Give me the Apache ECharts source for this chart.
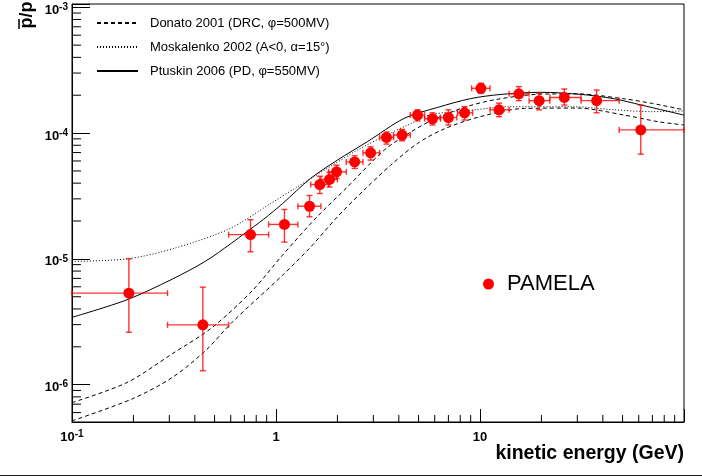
<!DOCTYPE html>
<html><head><meta charset="utf-8">
<script src="https://cdn.jsdelivr.net/npm/echarts@6/dist/echarts.min.js"></script>
<style>html,body{margin:0;padding:0;background:#fff}#c{width:702px;height:476px}</style>
</head><body><div id="c"></div>
<script>
// ---- PAMELA data ----
const energy     = [0.19, 0.438, 0.75, 1.10, 1.46, 1.64, 1.83, 1.98, 2.43, 2.91, 3.48, 4.15, 4.94, 5.85, 7.0, 8.4, 10.1, 12.4, 15.5, 19.5, 25.9, 37.3, 61.4];
const ratio      = [5.34e-6, 2.99e-6, 1.56e-5, 1.88e-5, 2.62e-5, 3.9e-5, 4.28e-5, 4.92e-5, 5.9e-5, 6.97e-5, 9.24e-5, 9.64e-5, 1.39e-4, 1.30e-4, 1.33e-4, 1.45e-4, 2.27e-4, 1.53e-4, 2.05e-4, 1.81e-4, 1.92e-4, 1.81e-4, 1.06e-4];
const energyLow  = [0.1, 0.294, 0.586, 0.92, 1.28, 1.48, 1.66, 1.81, 2.21, 2.67, 3.22, 3.77, 4.55, 5.35, 6.4, 7.77, 9.1, 11.2, 13.9, 17.4, 22.0, 31.3, 48.1];
const energyHigh = [0.294, 0.586, 0.92, 1.28, 1.66, 1.81, 2.0, 2.21, 2.67, 3.22, 3.77, 4.55, 5.35, 6.4, 7.7, 9.2, 11.2, 13.9, 17.4, 22.0, 31.3, 48.1, 100];
const ratioLow   = [2.61e-6, 1.29e-6, 1.14e-5, 1.36e-5, 2.16e-5, 3.31e-5, 3.73e-5, 4.36e-5, 5.23e-5, 6.1e-5, 8.17e-5, 8.68e-5, 1.25e-4, 1.16e-4, 1.16e-4, 1.27e-4, 2.07e-4, 1.35e-4, 1.81e-4, 1.53e-4, 1.67e-4, 1.45e-4, 6.8e-5];
const ratioHigh  = [1.0e-5, 5.96e-6, 2.05e-5, 2.47e-5, 3.19e-5, 4.54e-5, 4.87e-5, 5.56e-5, 6.6e-5, 7.78e-5, 1.02e-4, 1.07e-4, 1.53e-4, 1.45e-4, 1.53e-4, 1.62e-4, 2.49e-4, 1.73e-4, 2.34e-4, 2.07e-4, 2.24e-4, 2.2e-4, 1.67e-4];

// ---- model curves ----
const donatoUpperE = [0.1, 0.186, 0.31, 0.488, 0.766, 1.076, 1.59, 2.24, 3.39, 4.58, 5.74, 8.37, 12, 20, 30, 50, 70, 100];
const donatoUpperR = [7.2e-7, 1.04e-6, 1.76e-6, 2.86e-6, 5.6e-6, 1.07e-5, 2.16e-5, 3.73e-5, 7.32e-5, 1.02e-4, 1.25e-4, 1.6e-4, 1.85e-4, 2.04e-4, 2.05e-4, 1.88e-4, 1.72e-4, 1.53e-4];
const donatoLowerE = [0.1, 0.197, 0.31, 0.452, 0.61, 1.076, 1.477, 2.0, 2.7, 3.65, 4.94, 6.68, 10, 16.5, 30, 51, 75, 100];
const donatoLowerR = [5.16e-7, 7.7e-7, 1.14e-6, 1.87e-6, 3.14e-6, 7.4e-6, 1.24e-5, 2.16e-5, 3.52e-5, 5.56e-5, 8.28e-5, 1.08e-4, 1.35e-4, 1.57e-4, 1.58e-4, 1.39e-4, 1.23e-4, 1.16e-4];
const moskE = [0.1, 0.186, 0.31, 0.589, 0.94, 1.27, 1.8, 2.5, 3.5, 4.58, 5.74, 9.4, 13.7, 29, 45.7, 70, 100];
const moskR = [9.55e-6, 1.0e-5, 1.2e-5, 1.73e-5, 2.75e-5, 3.73e-5, 5.3e-5, 7.3e-5, 9.7e-5, 1.19e-4, 1.4e-4, 1.53e-4, 1.62e-4, 1.62e-4, 1.53e-4, 1.48e-4, 1.5e-4];
const ptusE = [0.1, 0.186, 0.31, 0.452, 0.6, 0.711, 0.871, 1.076, 1.477, 2.0, 2.8, 4.25, 6.2, 9.0, 12.7, 19.9, 31.3, 45, 61.8, 100];
const ptusR = [3.43e-6, 4.73e-6, 6.9e-6, 9.6e-6, 1.32e-5, 1.62e-5, 2.07e-5, 2.75e-5, 4.36e-5, 6.1e-5, 8.53e-5, 1.31e-4, 1.6e-4, 1.88e-4, 2.03e-4, 2.11e-4, 2.03e-4, 1.88e-4, 1.67e-4, 1.39e-4];

// ---- names / tick labels ----
const nameDonato = 'Donato 2001 (DRC, φ=500MV)';
const nameMosk = 'Moskalenko 2002 (A<0, α=15°)';
const namePtus = 'Ptuskin 2006 (PD, φ=550MV)';
const nameData = 'PAMELA';
const xAxisTitle = 'kinetic energy (GeV)';
const xTickLabels = [[0.1, '{b|10}{s|-1}'], [1, '{b|1}'], [10, '{b|10}']];

const X_MIN = 0.1, X_MAX = 100, Y_MIN = 5.05e-7, Y_MAX = 1.062e-3;
const FONT = '"Liberation Sans", Arial, Helvetica, sans-serif';

const zip = (a, b) => a.map((v, i) => [v, b[i]]);
const near = (a, b) => Math.abs(Math.log10(a) - Math.log10(b)) < 1e-6;

// minor tick positions (axis decoration)
const xMinor = [], yMinor = [];
for (let d = -1; d < 2; d++) for (let m = 2; m <= 9; m++) xMinor.push([m * Math.pow(10, d), Y_MIN]);
for (let d = -7; d < -3; d++) for (let m = 2; m <= 9; m++) { const v = m * Math.pow(10, d); if (v > Y_MIN && v < Y_MAX) yMinor.push([X_MIN, v]); }

const rich = {
  b: {fontSize: 13, fontWeight: 'bold', fontFamily: FONT, color: '#000', lineHeight: 16},
  s: {fontSize: 10, fontWeight: 'bold', fontFamily: FONT, color: '#000', lineHeight: 10, verticalAlign: 'top'}
};

const chart = echarts.init(document.getElementById('c'), null, {renderer: 'canvas'});
const errColor = 'rgba(255,0,0,0.8)';
chart.setOption({
  animation: false,
  backgroundColor: '#fff',
  grid: {left: 72, right: 18, top: 4, bottom: 54, show: true, borderColor: '#000', borderWidth: 1, containLabel: false, outerBoundsMode: 'none'},
  xAxis: {
    type: 'log', logBase: 10, min: X_MIN, max: X_MAX,
    axisLine: {lineStyle: {color: '#000', width: 1}},
    axisTick: {inside: true, length: 13, lineStyle: {color: '#000', width: 1}},
    splitLine: {show: false},
    axisLabel: {
      margin: 7, color: '#000', rich: rich,
      formatter: v => { for (const [t, s] of xTickLabels) if (near(v, t)) return s; return ''; }
    }
  },
  yAxis: {
    type: 'log', logBase: 10, min: Y_MIN, max: Y_MAX,
    axisLine: {lineStyle: {color: '#000', width: 1}},
    axisTick: {inside: true, length: 18, lineStyle: {color: '#000', width: 1}},
    splitLine: {show: false},
    axisLabel: {
      margin: 4, color: '#000', rich: rich, padding: [6, 0, 0, 0],
      formatter: v => { const e = Math.round(Math.log10(v)); if (!near(v, Math.pow(10, e))) return ''; return '{b|10}{s|' + e + '}'; }
    }
  },
  legend: [
    {
      orient: 'vertical', left: 96, top: 16, padding: 0, itemWidth: 41, itemHeight: 14, itemGap: 10,
      selectedMode: false, data: [nameDonato, nameMosk, namePtus],
      itemStyle: {color: 'rgba(0,0,0,0)', borderColor: 'rgba(0,0,0,0)', borderWidth: 0},
      textStyle: {fontSize: 13, color: '#000', fontFamily: FONT, lineHeight: 14, padding: [0, 0, 0, 7]}
    },
    {
      left: 483, top: 272, padding: 0, itemWidth: 11, itemHeight: 11, selectedMode: false, data: [nameData],
      textStyle: {fontSize: 22, color: '#000', fontFamily: FONT, lineHeight: 24, padding: [0, 0, 0, 8]}
    }
  ],
  graphic: [
    {type: 'text', x: 27, y: 15, rotation: Math.PI / 2, z: 100,
     style: {text: 'p/p', font: 'bold 18px ' + FONT, fill: '#000', align: 'center', verticalAlign: 'middle', textAlign: 'center', textVerticalAlign: 'middle'}},
    {type: 'line', z: 100, shape: {x1: 19, y1: 19, x2: 19, y2: 29}, style: {stroke: '#000', lineWidth: 1.5}},
    {type: 'text', x: 684, y: 454, z: 100,
     style: {text: xAxisTitle, font: 'bold 19.5px ' + FONT, fill: '#000', align: 'right', verticalAlign: 'middle', textAlign: 'right', textVerticalAlign: 'middle'}},
    {type: 'line', z: 100, shape: {x1: 0, y1: 475.5, x2: 702, y2: 475.5}, style: {stroke: '#222', lineWidth: 1}}
  ],
  series: [
    {name: nameDonato, type: 'line', data: zip(donatoUpperE, donatoUpperR), symbol: 'none', smooth: 0.3,
     lineStyle: {color: '#000', width: 1, type: [4, 3]}, itemStyle: {color: '#000'}, z: 3},
    {name: nameDonato, type: 'line', data: zip(donatoLowerE, donatoLowerR), symbol: 'none', smooth: 0.3,
     lineStyle: {color: '#000', width: 1, type: [4, 3]}, itemStyle: {color: '#000'}, z: 3},
    {name: nameMosk, type: 'line', data: zip(moskE, moskR), symbol: 'none', smooth: 0.3,
     lineStyle: {color: '#000', width: 1, type: [1, 2]}, itemStyle: {color: '#000'}, z: 3},
    {name: namePtus, type: 'line', data: zip(ptusE, ptusR), symbol: 'none', smooth: 0.3,
     lineStyle: {color: '#000', width: 1, type: 'solid'}, itemStyle: {color: '#000'}, z: 3},
    {
      name: 'errors', type: 'custom', z: 4, silent: true,
      data: energy.map((e, i) => [e, ratio[i], energyLow[i], energyHigh[i], ratioLow[i], ratioHigh[i]]),
      encode: {x: 0, y: 1},
      renderItem: (params, api) => {
        const x = api.value(0), y = api.value(1);
        const c = api.coord([x, y]);
        const pl = api.coord([api.value(2), y]), ph = api.coord([api.value(3), y]);
        const pyl = api.coord([x, api.value(4)]), pyh = api.coord([x, api.value(5)]);
        const cap = 3, st = {stroke: errColor, lineWidth: 1.4};
        const L = (x1, y1, x2, y2) => ({type: 'line', shape: {x1, y1, x2, y2}, style: st});
        return {type: 'group', children: [
          L(pl[0], c[1], ph[0], c[1]),
          L(pl[0], c[1] - cap, pl[0], c[1] + cap),
          L(ph[0], c[1] - cap, ph[0], c[1] + cap),
          L(c[0], pyl[1], c[0], pyh[1]),
          L(c[0] - cap, pyl[1], c[0] + cap, pyl[1]),
          L(c[0] - cap, pyh[1], c[0] + cap, pyh[1])
        ]};
      }
    },
    {name: nameData, type: 'scatter', data: zip(energy, ratio), symbol: 'circle', symbolSize: 11,
     itemStyle: {color: '#ff0000', opacity: 1}, z: 5},
    {
      name: 'xminor', type: 'custom', silent: true, z: 6, data: xMinor, encode: {x: 0, y: 1}, clip: false,
      renderItem: (params, api) => { const p = api.coord([api.value(0), api.value(1)]);
        return {type: 'line', shape: {x1: p[0], y1: p[1], x2: p[0], y2: p[1] - 7}, style: {stroke: '#000', lineWidth: 1}}; }
    },
    {
      name: 'yminor', type: 'custom', silent: true, z: 6, data: yMinor, encode: {x: 0, y: 1}, clip: false,
      renderItem: (params, api) => { const p = api.coord([api.value(0), api.value(1)]);
        return {type: 'line', shape: {x1: p[0], y1: p[1], x2: p[0] + 9, y2: p[1]}, style: {stroke: '#000', lineWidth: 1}}; }
    }
  ]
});
</script>
</body></html>
